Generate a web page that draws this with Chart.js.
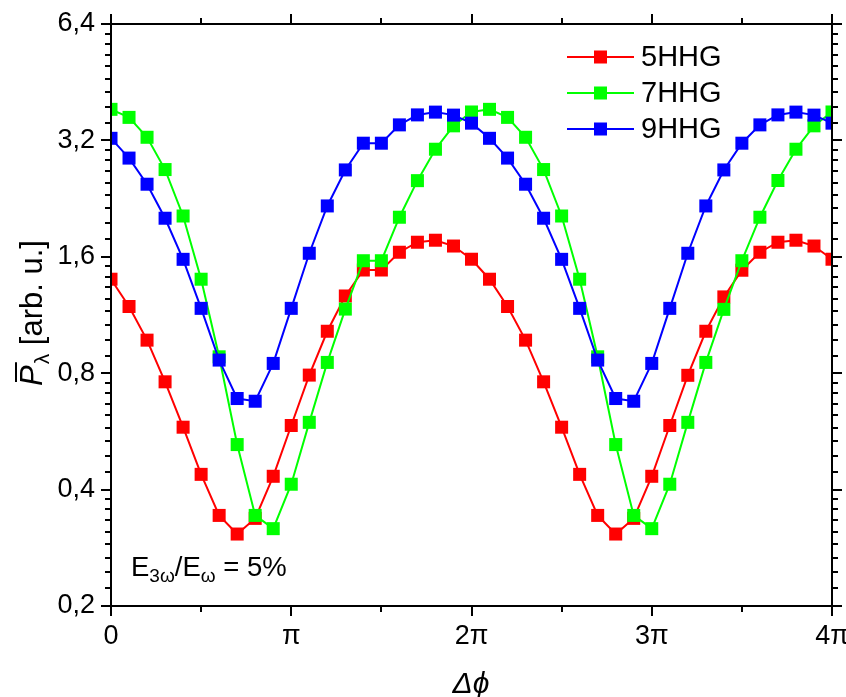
<!DOCTYPE html>
<html><head><meta charset="utf-8">
<script src="https://cdn.jsdelivr.net/npm/chart.js@4.4.0/dist/chart.umd.min.js"></script>
<style>html,body{margin:0;padding:0;background:#fff;}canvas{display:block;}</style>
</head><body>
<canvas id="c" width="846" height="697"></canvas>
<script>
// phase difference in units of pi
const phaseInPi = [0,0.1,0.2,0.3,0.4,0.5,0.6,0.7,0.8,0.9,1.0,1.1,1.2,1.3,1.4,1.5,1.6,1.7,1.8,1.9,2.0,2.1,2.2,2.3,2.4,2.5,2.6,2.7,2.8,2.9,3.0,3.1,3.2,3.3,3.4,3.5,3.6,3.7,3.8,3.9,4.0];
const hhg5 = [1.40,1.19,0.974,0.76,0.58,0.438,0.343,0.307,0.337,0.433,0.586,0.791,1.027,1.267,1.479,1.479,1.644,1.745,1.766,1.706,1.577,1.40,1.19,0.974,0.76,0.58,0.438,0.343,0.307,0.337,0.433,0.586,0.79,1.027,1.26,1.477,1.644,1.745,1.766,1.706,1.577];
const hhg7 = [3.85,3.67,3.26,2.69,2.04,1.40,0.882,0.523,0.343,0.317,0.413,0.597,0.853,1.172,1.563,1.563,2.025,2.518,3.036,3.49,3.79,3.85,3.67,3.26,2.69,2.04,1.40,0.882,0.523,0.343,0.317,0.413,0.597,0.853,1.17,1.563,2.025,2.52,3.036,3.49,3.79];
const hhg9 = [3.24,2.88,2.465,2.013,1.576,1.177,0.865,0.688,0.677,0.848,1.177,1.634,2.166,2.684,3.147,3.147,3.51,3.725,3.787,3.72,3.546,3.24,2.88,2.465,2.013,1.576,1.177,0.865,0.688,0.677,0.848,1.177,1.634,2.166,2.684,3.147,3.51,3.725,3.787,3.72,3.546];
const seriesNames = ['5HHG','7HHG','9HHG'];
const seriesColors = ['#ff0000','#00ff00','#0000ff'];
const xTickValues = [0,1,2,3,4];
const xTickLabels = ['0','\u03C0','2\u03C0','3\u03C0','4\u03C0'];
const xMinorValues = [0.5,1.5,2.5,3.5];
const yTickValues = [0.2,0.4,0.8,1.6,3.2,6.4];
const yTickLabels = ['0,2','0,4','0,8','1,6','3,2','6,4'];

const FONT = '"Liberation Sans", Arial, Helvetica, sans-serif';
const pts = arr => arr.map((v,i)=>({x:phaseInPi[i], y:v}));

const decor = {
  id:'decor',
  afterDraw(chart){
    const ctx = chart.ctx, ca = chart.chartArea;
    const xs = chart.scales.x, ys = chart.scales.y;
    ctx.save();
    ctx.strokeStyle = '#000'; ctx.lineWidth = 2; ctx.lineCap='butt';
    const L = Math.round(ca.left), R = Math.round(ca.right), T = Math.round(ca.top), B = Math.round(ca.bottom);
    ctx.beginPath();
    ctx.rect(L, T, R-L, B-T);
    ctx.stroke();
    const tick = (x1,y1,x2,y2)=>{ctx.beginPath();ctx.moveTo(x1,y1);ctx.lineTo(x2,y2);ctx.stroke();};
    // x ticks
    xTickValues.forEach(v=>{const p=Math.round(xs.getPixelForValue(v)); tick(p,B,p,B+10); tick(p,T,p,T-10);});
    xMinorValues.forEach(v=>{const p=Math.round(xs.getPixelForValue(v)); tick(p,B,p,B+6); tick(p,T,p,T-6);});
    // y ticks
    yTickValues.forEach((v,k)=>{
      const p=Math.round(ys.getPixelForValue(v)); tick(L,p,L-10,p); tick(R,p,R+10,p);
      if(k<yTickValues.length-1){
        for(let m=1;m<=8;m++){
          const mv = v + m*v/9;
          const q=Math.round(ys.getPixelForValue(mv)); tick(L,q,L-6,q); tick(R,q,R+6,q);
        }
      }
    });
    // legend
    ctx.font = '29px '+FONT; ctx.textBaseline='middle'; ctx.textAlign='left'; ctx.fillStyle='#000';
    const ly = [57, 93, 129];
    seriesNames.forEach((n,i)=>{
      ctx.strokeStyle = seriesColors[i]; ctx.lineWidth=2;
      tick(567, ly[i], 634, ly[i]);
      ctx.fillStyle = seriesColors[i];
      ctx.fillRect(594, ly[i]-6.5, 13, 13);
      ctx.fillStyle = '#000';
      ctx.fillText(n, 641, ly[i]+1);
    });
    // annotation
    ctx.textBaseline='alphabetic';
    let x = 131, by = 576;
    const big = '27.5px '+FONT, small = '19px '+FONT;
    const put = (t,f,dy)=>{ctx.font=f; ctx.fillText(t,x,by+dy); x+=ctx.measureText(t).width;};
    put('E',big,0); put('3\u03C9',small,6); put('/E',big,0); put('\u03C9',small,6); put(' = 5%',big,0);
    // x title
    ctx.font = 'italic 30px '+FONT; ctx.textAlign='center';
    ctx.fillText('\u0394\u03D5', 471, 693);
    // y title
    ctx.save();
    ctx.translate(42, 386); ctx.rotate(-Math.PI/2);
    ctx.textAlign='left';
    let tx = 0;
    ctx.font = 'italic 31px '+FONT;
    const pw = ctx.measureText('P').width;
    ctx.fillText('P',0,0);
    ctx.lineWidth=2; ctx.strokeStyle='#000';
    tick(4,-26,pw+3,-26);
    tx = pw+1;
    ctx.font = '21px '+FONT;
    ctx.fillText('\u03BB',tx,7); tx += ctx.measureText('\u03BB').width;
    ctx.font = '31px '+FONT;
    ctx.fillText(' [arb. u.]',tx,0);
    ctx.restore();
    ctx.restore();
  }
};

const mk = (arr,i,ord)=>({
  label: seriesNames[i], data: pts(arr), order: ord,
  borderColor: seriesColors[i], backgroundColor: seriesColors[i],
  pointBackgroundColor: seriesColors[i], pointBorderWidth: 0,
  pointStyle:'rect', pointRadius: 9.2, borderWidth: 2, tension: 0
});

new Chart(document.getElementById('c'), {
  type:'line',
  data:{ datasets:[ mk(hhg5,0,3), mk(hhg7,1,2), mk(hhg9,2,1) ] },
  options:{
    responsive:false, animation:false, devicePixelRatio:1,
    layout:{ padding:{ top:24, right:14, left:0, bottom:0 } },
    plugins:{ legend:{display:false}, tooltip:{enabled:false} },
    scales:{
      x:{ type:'linear', min:0, max:4,
        grid:{ display:false, drawTicks:false },
        border:{ display:false },
        afterBuildTicks: s=>{ s.ticks = xTickValues.map(v=>({value:v})); },
        afterFit: s=>{ s.height = 91; s.paddingLeft=0; s.paddingRight=0; },
        ticks:{ autoSkip:false, maxRotation:0, padding:14, color:'#000', font:{family:FONT, size:27},
          callback:(v)=>{ const k=xTickValues.indexOf(v); return k>=0?xTickLabels[k]:''; } }
      },
      y:{ type:'logarithmic', min:0.2, max:6.4,
        grid:{ display:false, drawTicks:false },
        border:{ display:false },
        afterBuildTicks: s=>{ s.ticks = yTickValues.map(v=>({value:v})); },
        afterFit: s=>{ s.width = 111; s.paddingTop=0; s.paddingBottom=0; },
        ticks:{ autoSkip:false, padding:16, color:'#000', font:{family:FONT, size:27},
          callback:(v)=>{ const k=yTickValues.findIndex(t=>Math.abs(t-v)<1e-9); return k>=0?yTickLabels[k]:''; } }
      }
    }
  },
  plugins:[decor]
});
</script></body></html>
